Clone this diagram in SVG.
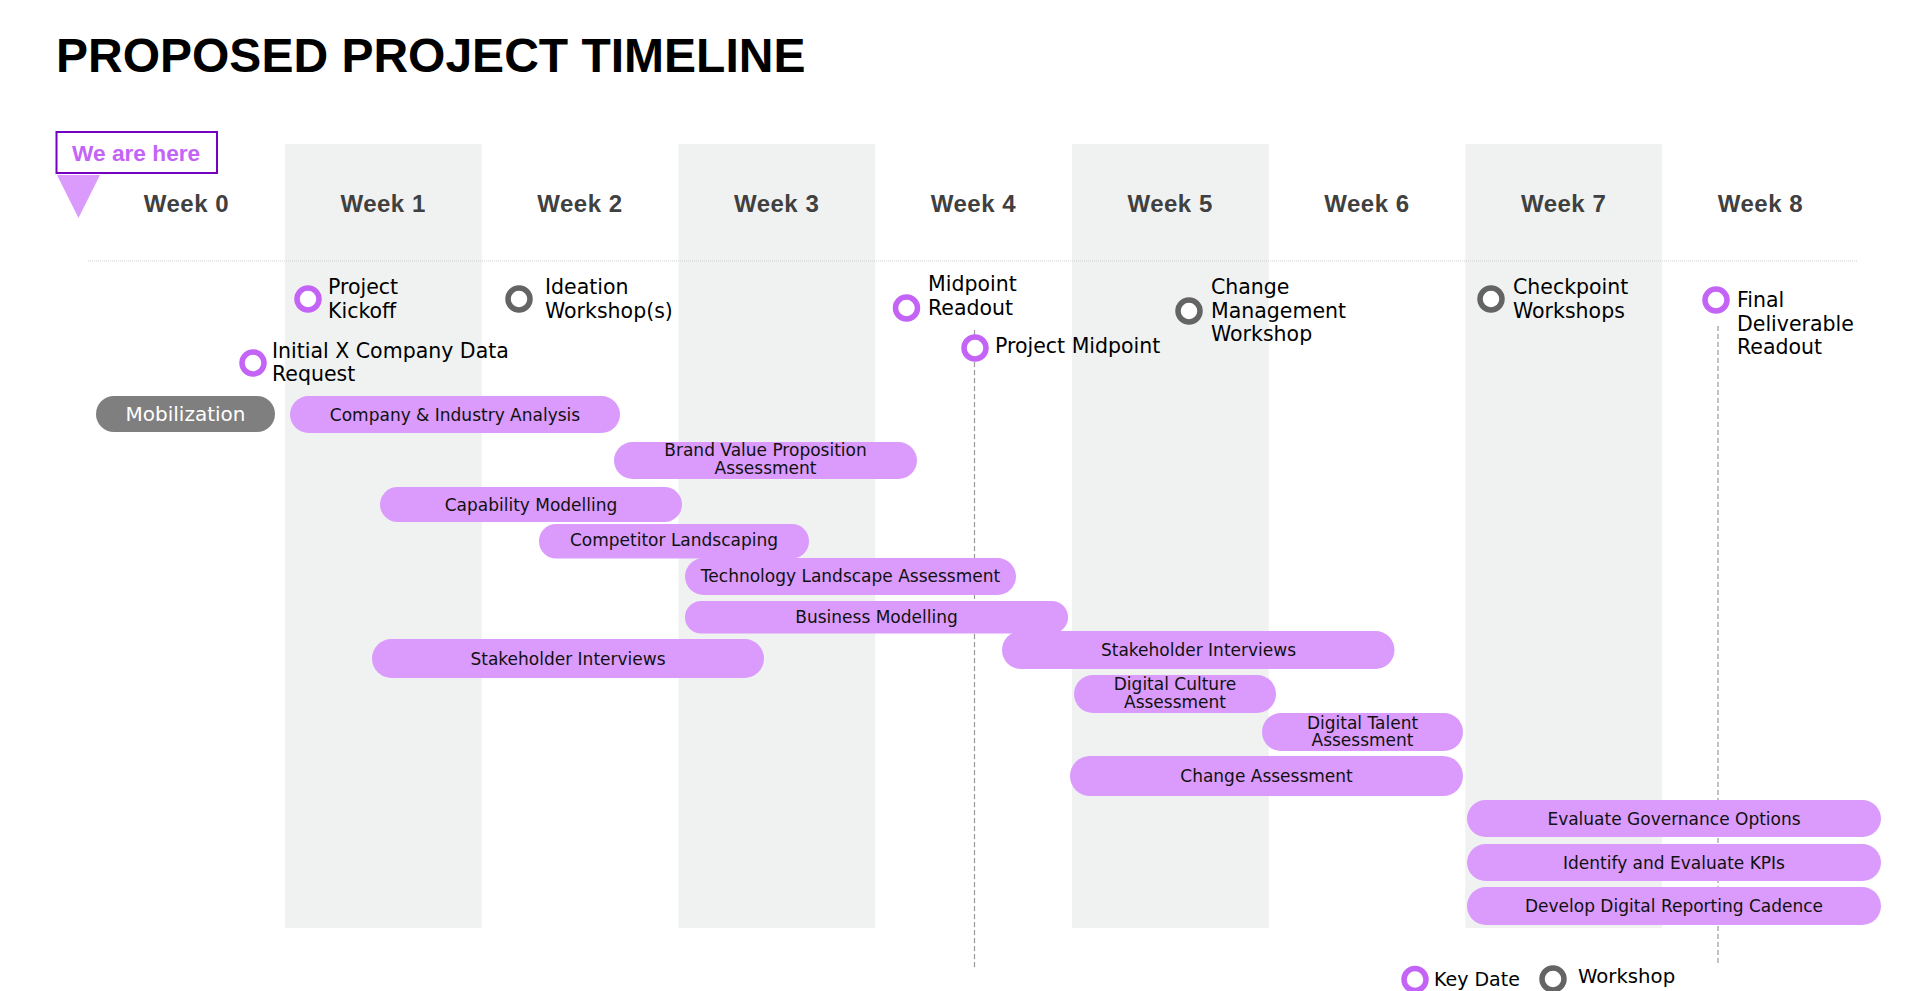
<svg xmlns="http://www.w3.org/2000/svg" width="1910" height="991" viewBox="0 0 1910 991">
<style>
.title{font-family:"Liberation Sans",Arial,sans-serif;font-weight:bold;font-size:48px;fill:#000}
.here{font-family:"Liberation Sans",Arial,sans-serif;font-weight:bold;font-size:22.7px;fill:#C464F7}
.wk{font-family:"Liberation Sans",Arial,sans-serif;font-weight:bold;font-size:24px;fill:#404040;text-anchor:middle;letter-spacing:0.5px}
.lbl{font-family:"DejaVu Sans","Liberation Sans",sans-serif;font-size:20.5px;fill:#000}
.bt{font-family:"DejaVu Sans","Liberation Sans",sans-serif;font-size:17px;fill:#111;text-anchor:middle}
.bar{fill:#DA9BFC}
.col{fill:#F0F2F1}
.kd{fill:#fff;stroke:#C464F7;stroke-width:5.5}
.ws{fill:#fff;stroke:#646464;stroke-width:5.5}
.dash{stroke:#9a9a9a;stroke-width:1.2;stroke-dasharray:5 3;fill:none}
</style>
<rect width="1910" height="991" fill="#fff"/>
<g id="columns">
<rect class="col" x="285" y="144" width="196.75" height="784"/>
<rect class="col" x="678.5" y="144" width="196.75" height="784"/>
<rect class="col" x="1072" y="144" width="196.75" height="784"/>
<rect class="col" x="1465.25" y="144" width="196.75" height="784"/>
</g>
<text class="title" x="56" y="72">PROPOSED PROJECT TIMELINE</text>
<g id="we-are-here">
<rect x="56.5" y="132" width="160.5" height="41" fill="#fff" stroke="#7500C0" stroke-width="2"/>
<text class="here" x="72" y="160.5">We are here</text>
<polygon points="57,175 100,175 78.5,218" fill="#DA9BFC"/>
</g>
<g id="weeks">
<text class="wk" x="186.4" y="212">Week 0</text>
<text class="wk" x="383.1" y="212">Week 1</text>
<text class="wk" x="579.9" y="212">Week 2</text>
<text class="wk" x="776.6" y="212">Week 3</text>
<text class="wk" x="973.4" y="212">Week 4</text>
<text class="wk" x="1170.1" y="212">Week 5</text>
<text class="wk" x="1366.9" y="212">Week 6</text>
<text class="wk" x="1563.6" y="212">Week 7</text>
<text class="wk" x="1760.4" y="212">Week 8</text>
</g>
<line x1="88" y1="261" x2="1858" y2="261" stroke="#cfcfcf" stroke-width="1" stroke-dasharray="1 1"/>
<g id="connectors">
<line class="dash" x1="974.5" y1="330" x2="974.5" y2="968"/>
<line class="dash" x1="1718" y1="326" x2="1718" y2="964"/>
</g>
<g id="project-kickoff">
<circle class="kd" cx="308" cy="299" r="11"/>
<text class="lbl" x="328" y="294">Project</text>
<text class="lbl" x="328" y="318">Kickoff</text>
</g>
<g id="ideation-workshops">
<circle class="ws" cx="519" cy="299" r="11"/>
<text class="lbl" x="545" y="294">Ideation</text>
<text class="lbl" x="545" y="318">Workshop(s)</text>
</g>
<g id="initial-data-request">
<circle class="kd" cx="253" cy="363" r="11"/>
<text class="lbl" x="272" y="357.5">Initial X Company Data</text>
<text class="lbl" x="272" y="381">Request</text>
</g>
<g id="midpoint-readout">
<circle class="kd" cx="906.5" cy="308" r="11"/>
<text class="lbl" x="928" y="290.5">Midpoint</text>
<text class="lbl" x="928" y="315">Readout</text>
</g>
<g id="project-midpoint">
<circle class="kd" cx="975" cy="348" r="11"/>
<text class="lbl" x="995" y="353">Project Midpoint</text>
</g>
<g id="change-management-workshop">
<circle class="ws" cx="1189" cy="311" r="11"/>
<text class="lbl" x="1211" y="293.5">Change</text>
<text class="lbl" x="1211" y="317.5">Management</text>
<text class="lbl" x="1211" y="341">Workshop</text>
</g>
<g id="checkpoint-workshops">
<circle class="ws" cx="1491" cy="299" r="11"/>
<text class="lbl" x="1513" y="294">Checkpoint</text>
<text class="lbl" x="1513" y="318">Workshops</text>
</g>
<g id="final-deliverable-readout">
<circle class="kd" cx="1716" cy="300" r="11"/>
<text class="lbl" x="1737" y="306.5">Final</text>
<text class="lbl" x="1737" y="330.5">Deliverable</text>
<text class="lbl" x="1737" y="353.5">Readout</text>
</g>
<g id="mobilization">
<rect x="96" y="396" width="179" height="36" rx="18" fill="#7F7F7F"/>
<text x="185.5" y="421" font-family="DejaVu Sans, Liberation Sans, sans-serif" font-size="20px" fill="#fff" text-anchor="middle">Mobilization</text>
</g>
<g id="company-industry-analysis">
<rect class="bar" x="290" y="396" width="330" height="37" rx="18.5"/>
<text class="bt" x="455" y="420.5">Company &amp; Industry Analysis</text>
</g>
<g id="brand-value-proposition">
<rect class="bar" x="614" y="442" width="303" height="37" rx="18.5"/>
<text class="bt" x="765.5" y="456">Brand Value Proposition</text>
<text class="bt" x="765.5" y="474">Assessment</text>
</g>
<g id="capability-modelling">
<rect class="bar" x="380" y="487" width="302" height="35" rx="17.5"/>
<text class="bt" x="531" y="510.5">Capability Modelling</text>
</g>
<g id="competitor-landscaping">
<rect class="bar" x="539" y="524" width="270" height="34.5" rx="17"/>
<text class="bt" x="674" y="546">Competitor Landscaping</text>
</g>
<g id="technology-landscape-assessment">
<rect class="bar" x="685" y="558" width="331" height="37" rx="18.5"/>
<text class="bt" x="850.5" y="581.5">Technology Landscape Assessment</text>
</g>
<g id="business-modelling">
<rect class="bar" x="685" y="601" width="383" height="32.5" rx="16"/>
<text class="bt" x="876.5" y="622.5">Business Modelling</text>
</g>
<g id="stakeholder-interviews-1">
<rect class="bar" x="372" y="639" width="392" height="39" rx="19.5"/>
<text class="bt" x="568" y="664.5">Stakeholder Interviews</text>
</g>
<g id="stakeholder-interviews-2">
<rect class="bar" x="1002" y="631" width="392.5" height="38" rx="19"/>
<text class="bt" x="1198.5" y="655.5">Stakeholder Interviews</text>
</g>
<g id="digital-culture-assessment">
<rect class="bar" x="1074" y="675" width="202" height="38" rx="19"/>
<text class="bt" x="1175" y="690">Digital Culture</text>
<text class="bt" x="1175" y="707.5">Assessment</text>
</g>
<g id="digital-talent-assessment">
<rect class="bar" x="1262" y="713" width="201" height="38" rx="19"/>
<text class="bt" x="1362.5" y="728.5">Digital Talent</text>
<text class="bt" x="1362.5" y="746">Assessment</text>
</g>
<g id="change-assessment">
<rect class="bar" x="1070" y="756" width="393" height="40" rx="20"/>
<text class="bt" x="1266.5" y="781.5">Change Assessment</text>
</g>
<g id="evaluate-governance-options">
<rect class="bar" x="1467" y="800" width="414" height="37" rx="18.5"/>
<text class="bt" x="1674" y="824.5">Evaluate Governance Options</text>
</g>
<g id="identify-evaluate-kpis">
<rect class="bar" x="1467" y="844" width="414" height="37" rx="18.5"/>
<text class="bt" x="1674" y="868.5">Identify and Evaluate KPIs</text>
</g>
<g id="develop-digital-reporting-cadence">
<rect class="bar" x="1467" y="887" width="414" height="38" rx="19"/>
<text class="bt" x="1674" y="912">Develop Digital Reporting Cadence</text>
</g>
<g id="legend">
<circle class="kd" cx="1415" cy="979.5" r="11"/>
<text class="lbl" x="1434" y="986" font-size="19px" style="font-size:19px">Key Date</text>
<circle class="ws" cx="1553" cy="979" r="11"/>
<text class="lbl" x="1578" y="983" style="font-size:19.7px">Workshop</text>
</g>
</svg>
